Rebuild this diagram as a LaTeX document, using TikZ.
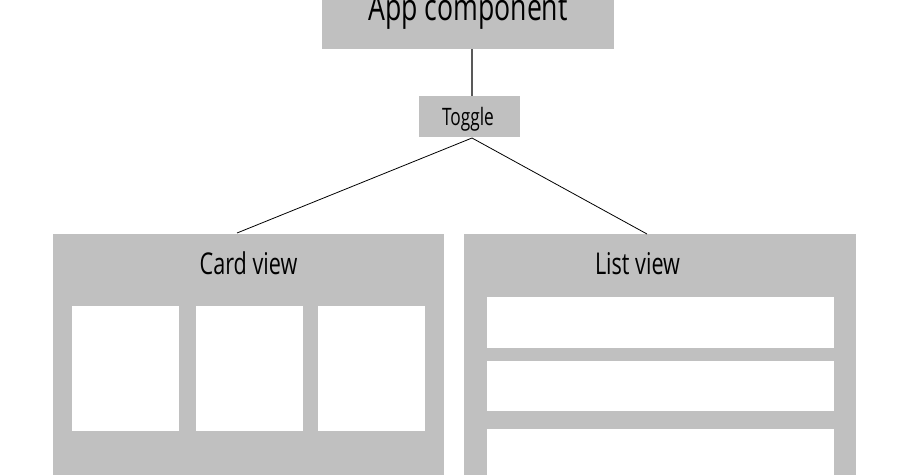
\documentclass[tikz,border=0pt]{standalone}
\usepackage{fontspec}
\setmainfont[FakeStretch=0.72]{Open Sans}
\definecolor{boxgray}{HTML}{C0C0C0}
\begin{document}
\begin{tikzpicture}[x=1pt,y=-1pt,
  panel/.style={fill=boxgray,draw=none,inner sep=0pt,anchor=north west},
  slot/.style={fill=white,draw=none,inner sep=0pt,anchor=north west},
  lbl/.style={anchor=base,inner sep=0pt,text=black},
  conn/.style={draw=black,line width=0.8pt}]
\useasboundingbox (0,0) rectangle (901,474);
% boxes
\node[panel,minimum width=292pt,minimum height=70pt] (app) at (322,-21) {};
\node[panel,minimum width=101pt,minimum height=41pt] (toggle) at (419,96) {};
\node[panel,minimum width=391pt,minimum height=260pt] (card) at (53,234) {};
\node[panel,minimum width=392pt,minimum height=260pt] (list) at (464,234) {};
% cards
\node[slot,minimum width=107pt,minimum height=125pt] (c1) at (72,306) {};
\node[slot,minimum width=107pt,minimum height=125pt] (c2) at (196,306) {};
\node[slot,minimum width=107pt,minimum height=125pt] (c3) at (318,306) {};
% list rows
\node[slot,minimum width=347pt,minimum height=51pt] (r1) at (487,297) {};
\node[slot,minimum width=347pt,minimum height=50pt] (r2) at (487,361) {};
\node[slot,minimum width=347pt,minimum height=60pt] (r3) at (487,429) {};
% labels
\node[lbl,font=\fontsize{37}{40}\selectfont] (tapp) at (468,20) {App component};
\node[lbl,font=\fontsize{24}{26}\selectfont] (ttog) at (468,125) {Toggle};
\node[lbl,font=\fontsize{30}{32}\selectfont] (tcard) at (248.5,274) {Card view};
\node[lbl,font=\fontsize{30}{32}\selectfont] (tlist) at (637.5,274) {List view};
% connectors
\coordinate (appb) at (472,49);
\coordinate (togt) at (472,96);
\coordinate (togb) at (472,138);
\coordinate (cardt) at (237,233);
\coordinate (listt) at (647,234);
\draw[draw=black!65,line width=1.3pt] (appb) -- (togt);
\draw[conn] (togb) -- (cardt);
\draw[conn] (togb) -- (listt);
\end{tikzpicture}
\end{document}
